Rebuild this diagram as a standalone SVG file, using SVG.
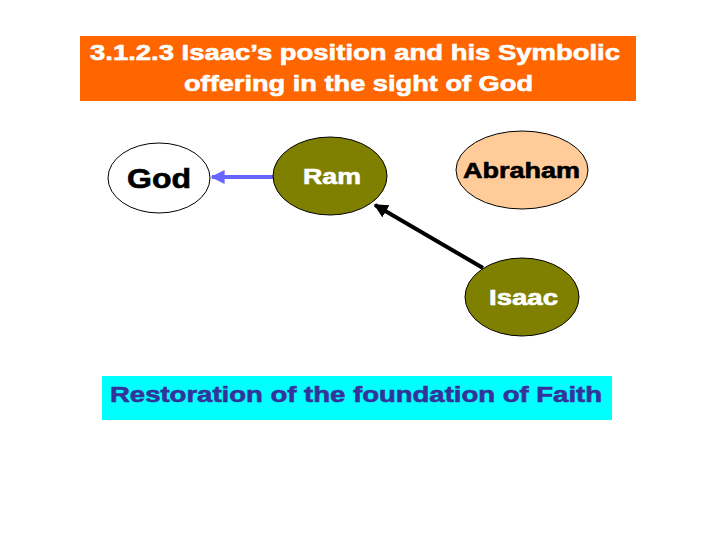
<svg xmlns="http://www.w3.org/2000/svg" width="720" height="540" viewBox="0 0 720 540">
<defs>
<style>
.t{font-family:"Liberation Sans",Arial,sans-serif;font-weight:bold;text-anchor:middle;stroke-width:0.6}
.olive{fill:#808000;stroke:#000;stroke-width:1}
</style>
<marker id="ab" viewBox="0 0 10 10" refX="9" refY="5" markerWidth="3.5" markerHeight="3.5" orient="auto"><path d="M0,0 L10,5 L0,10 z" fill="#6666FF"/></marker>
<marker id="ak" viewBox="0 0 10 10" refX="9" refY="5" markerWidth="3.5" markerHeight="3.5" orient="auto"><path d="M0,0 L10,5 L0,10 z" fill="#000"/></marker>
</defs>
<rect width="720" height="540" fill="#fff"/>
<g id="title">
<rect x="80" y="36" width="556" height="65" fill="#FF6600"/>
<text class="t" x="355" y="60" font-size="22" fill="#fff" stroke="#fff" textLength="530" lengthAdjust="spacingAndGlyphs">3.1.2.3 Isaac’s position and his Symbolic</text>
<text class="t" x="358.5" y="91" font-size="22" fill="#fff" stroke="#fff" textLength="349" lengthAdjust="spacingAndGlyphs">offering in the sight of God</text>
</g>
<g id="connectors">
<line x1="273" y1="177" x2="212" y2="177" stroke="#6666FF" stroke-width="4" marker-end="url(#ab)"/>
<line x1="483" y1="268" x2="375" y2="205" stroke="#000" stroke-width="4" marker-end="url(#ak)"/>
</g>
<g id="god">
<ellipse cx="159" cy="178" rx="51" ry="35" fill="#fff" stroke="#000" stroke-width="1"/>
<text class="t" x="159" y="188" font-size="27" fill="#000" stroke="#000" textLength="64" lengthAdjust="spacingAndGlyphs">God</text>
</g>
<g id="ram">
<ellipse class="olive" cx="330" cy="176" rx="57" ry="39"/>
<text class="t" x="332" y="184" font-size="22" fill="#fff" stroke="#fff" textLength="58" lengthAdjust="spacingAndGlyphs">Ram</text>
</g>
<g id="abraham">
<ellipse cx="522" cy="170" rx="66" ry="39" fill="#FFCC99" stroke="#000" stroke-width="1"/>
<text class="t" x="521.5" y="178" font-size="22" fill="#000" stroke="#000" textLength="117" lengthAdjust="spacingAndGlyphs">Abraham</text>
</g>
<g id="isaac">
<ellipse class="olive" cx="522" cy="297" rx="57" ry="39"/>
<text class="t" x="523.5" y="305" font-size="22" fill="#fff" stroke="#fff" textLength="69" lengthAdjust="spacingAndGlyphs">Isaac</text>
</g>
<g id="restoration">
<rect x="102" y="376" width="510" height="44" fill="#00FFFF"/>
<text class="t" x="356" y="402" font-size="22" fill="#333399" stroke="#333399" textLength="492" lengthAdjust="spacingAndGlyphs">Restoration of the foundation of Faith</text>
</g>
</svg>
